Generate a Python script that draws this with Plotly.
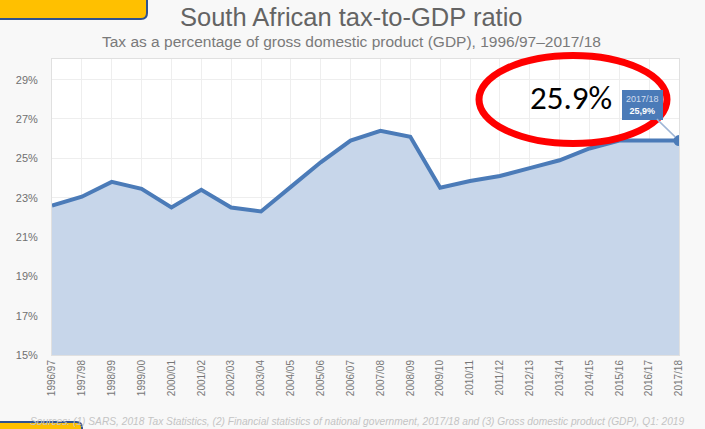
import plotly.graph_objects as go

years = ["1996/97", "1997/98", "1998/99", "1999/00", "2000/01", "2001/02", "2002/03",
         "2003/04", "2004/05", "2005/06", "2006/07", "2007/08", "2008/09", "2009/10",
         "2010/11", "2011/12", "2012/13", "2013/14", "2014/15", "2015/16", "2016/17", "2017/18"]
ratio = [22.6, 23.05, 23.8, 23.45, 22.5, 23.4, 22.5, 22.3, 23.55, 24.8, 25.9, 26.4, 26.1,
         23.5, 23.85, 24.1, 24.5, 24.9, 25.5, 25.9, 25.9, 25.9]
y_ticks = [15, 17, 19, 21, 23, 25, 27, 29]

W, H = 705, 429
L, R, T, B = 52, 26, 59, 74
PW, PH = W - L - R, H - T - B

def px(x):
    return (x - L) / PW

def py(y):
    return (H - B - y) / PH

line_col = "#4b7bb8"
fill_col = "#c7d6ea"

fig = go.Figure()
fig.add_trace(go.Scatter(
    x=years, y=ratio, mode="lines", fill="tozeroy", fillcolor=fill_col,
    line=dict(color=line_col, width=4), hoverinfo="skip", showlegend=False))
fig.add_trace(go.Scatter(
    x=[years[-1]], y=[ratio[-1]], mode="markers",
    marker=dict(color=line_col, size=11), hoverinfo="skip", showlegend=False))

fig.update_layout(
    width=W, height=H,
    margin=dict(l=L, r=R, t=T, b=B, autoexpand=False),
    paper_bgcolor="#f8f8f8", plot_bgcolor="#ffffff",
    font=dict(family="Liberation Sans, Arial, sans-serif", color="#666666"),
    xaxis=dict(type="category", range=[0, len(years) - 1], tickangle=-90,
               tickfont=dict(size=10, color="#777777"), showgrid=True,
               gridcolor="#eeeeee", showline=True, linecolor="#e0e0e0", mirror=True,
               ticks="", zeroline=False),
    yaxis=dict(range=[15, 30.05], tickvals=y_ticks, ticktext=[f"{v}%" for v in y_ticks],
               tickfont=dict(size=11, color="#707070"), showgrid=True,
               gridcolor="#eeeeee", showline=True, linecolor="#e0e0e0", mirror=True,
               ticks="", zeroline=False, ticklabelstandoff=11),
)

annotations = [
    dict(text="South African tax-to-GDP ratio", x=px(351), y=py(17), xref="paper", yref="paper",
         xanchor="center", yanchor="middle", showarrow=False,
         font=dict(size=25.5, color="#646464")),
    dict(text="Tax as a percentage of gross domestic product (GDP), 1996/97\u20132017/18",
         x=px(351), y=py(41), xref="paper", yref="paper", xanchor="center", yanchor="middle",
         showarrow=False, font=dict(size=15.5, color="#7a7a7a")),
    dict(text="<i>Sources: (1) SARS, 2018 Tax Statistics, (2) Financial statistics of national government, 2017/18 and (3) Gross domestic product (GDP), Q1: 2019</i>",
         x=px(687), y=py(421), xref="paper", yref="paper", xanchor="right", yanchor="middle",
         showarrow=False, font=dict(size=10.2, color="#c4c4c4")),
    dict(text="<span style='color:#d0ddef'>2017/18</span><br><b>25,9%</b>", x=years[-1], y=ratio[-1],
         xref="x", yref="y",
         showarrow=True, arrowhead=0, arrowwidth=1.5, arrowcolor="#9fb6d6", ax=-37, ay=-36,
         standoff=5, bgcolor="#4b7bb8", bordercolor="#4b7bb8", borderpad=3,
         font=dict(size=9, color="#ffffff")),
    dict(text="25.9%", x=px(571), y=py(98), xref="paper", yref="paper", xanchor="center",
         yanchor="middle", showarrow=False,
         font=dict(size=33, color="#000000", family="Carlito, Liberation Sans, Arial")),
]
fig.update_layout(annotations=annotations)

shapes = [
    dict(type="circle", xref="paper", yref="paper", x0=px(479), x1=px(667), y0=py(143.5), y1=py(55.5),
         line=dict(color="#ff0000", width=7), fillcolor="rgba(0,0,0,0)", layer="above"),
    dict(type="path", xref="paper", yref="paper",
         path=f"M {px(-5)},{py(-5)} L {px(147)},{py(-5)} L {px(147)},{py(13)} Q {px(147)},{py(19)} {px(141)},{py(19)} L {px(-5)},{py(19)} Z",
         fillcolor="#ffc000", line=dict(color="#2f528f", width=2), layer="above"),
    dict(type="path", xref="paper", yref="paper",
         path=f"M {px(-5)},{py(435)} L {px(-5)},{py(422)} L {px(76)},{py(422)} Q {px(82)},{py(422)} {px(82)},{py(428)} L {px(82)},{py(435)} Z",
         fillcolor="#ffc000", line=dict(color="#2f528f", width=2), layer="above"),
]
fig.update_layout(shapes=shapes)

fig.write_html("out.html", config={"displayModeBar": False},
               post_script="document.body.style.margin='0';")
